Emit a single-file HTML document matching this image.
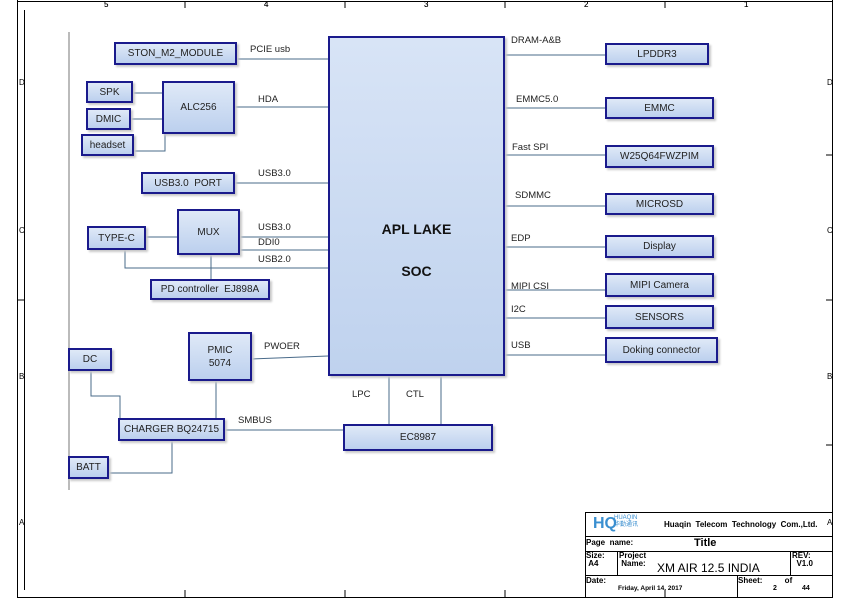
<!DOCTYPE html>
<html><head><style>
body{margin:0;width:851px;height:601px;background:#fff;position:relative;overflow:hidden;font-family:"Liberation Sans",sans-serif}
.b{position:absolute;box-sizing:border-box;border:2.5px solid #1a1a8c;background:linear-gradient(180deg,#dfe9f7,#bcd0ee);box-shadow:2px 2px 2px #c8c8c8;font-size:10px;color:#222;display:flex;align-items:center;justify-content:center;text-align:center;line-height:13px}
.t{position:absolute;font-size:9.5px;color:#222;white-space:nowrap}
.s{position:absolute;font-size:8px;color:#000}
</style></head><body>
<svg width="851" height="601" style="position:absolute;left:0;top:0">
<g stroke="#000" stroke-width="1" fill="none">
<line x1="17" y1="1.5" x2="833" y2="1.5"/><line x1="17.5" y1="0" x2="17.5" y2="598"/>
<line x1="832.5" y1="0" x2="832.5" y2="598"/><line x1="17" y1="597.5" x2="833" y2="597.5"/>
<line x1="24.5" y1="10" x2="24.5" y2="590"/>
<line x1="185" y1="1" x2="185" y2="8"/><line x1="345" y1="1" x2="345" y2="8"/><line x1="505" y1="1" x2="505" y2="8"/><line x1="665" y1="1" x2="665" y2="8"/>
<line x1="185" y1="590" x2="185" y2="598"/><line x1="345" y1="590" x2="345" y2="598"/><line x1="505" y1="590" x2="505" y2="598"/><line x1="665" y1="590" x2="665" y2="598"/>
<line x1="17" y1="300" x2="24" y2="300"/><line x1="826" y1="300" x2="833" y2="300"/>
<line x1="826" y1="155" x2="833" y2="155"/><line x1="826" y1="445" x2="833" y2="445"/>
</g>
<line x1="69" y1="32" x2="69" y2="490" stroke="#bbb" stroke-width="2"/>
<g stroke="#4a6b8a" stroke-width="1" fill="none">
<line x1="237" y1="59" x2="328" y2="59"/><line x1="235" y1="107" x2="328" y2="107"/><line x1="235" y1="183" x2="328" y2="183"/>
<line x1="133" y1="93" x2="162" y2="93"/><line x1="131" y1="119" x2="162" y2="119"/><polyline points="134,151 165,151 165,134"/>
<line x1="146" y1="237" x2="177" y2="237"/><line x1="240" y1="237" x2="328" y2="237"/><line x1="240" y1="250" x2="328" y2="250"/>
<polyline points="125,250 125,268 328,268"/><line x1="211" y1="255" x2="211" y2="279"/>
<line x1="252" y1="359" x2="328" y2="356"/><line x1="216" y1="381" x2="216" y2="418"/>
<polyline points="91,371 91,396 120,396 120,418"/><line x1="225" y1="430" x2="343" y2="430"/>
<polyline points="109,473 172,473 172,441"/><line x1="389" y1="376" x2="389" y2="424"/><line x1="441" y1="376" x2="441" y2="424"/>
<line x1="505" y1="55" x2="605" y2="55"/><line x1="505" y1="108" x2="605" y2="108"/><line x1="505" y1="155" x2="605" y2="155"/>
<line x1="505" y1="206" x2="605" y2="206"/><line x1="505" y1="247" x2="605" y2="247"/><line x1="505" y1="290" x2="605" y2="290"/>
<line x1="505" y1="318" x2="605" y2="318"/><line x1="505" y1="355" x2="605" y2="355"/>
</g>
<g stroke="#000" stroke-width="1" fill="none">
<rect x="585.5" y="512.5" width="247" height="85"/>
<line x1="585" y1="536.5" x2="833" y2="536.5"/><line x1="585" y1="551.5" x2="833" y2="551.5"/><line x1="585" y1="575.5" x2="833" y2="575.5"/>
<line x1="617.5" y1="551" x2="617.5" y2="575"/><line x1="790.5" y1="551" x2="790.5" y2="575"/><line x1="737.5" y1="575" x2="737.5" y2="597"/>
</g>
</svg>
<div class="s" style="left:104px;top:0">5</div><div class="s" style="left:264px;top:0">4</div><div class="s" style="left:424px;top:0">3</div><div class="s" style="left:584px;top:0">2</div><div class="s" style="left:744px;top:0">1</div>
<div class="s" style="left:104px;top:592">5</div><div class="s" style="left:264px;top:592">4</div><div class="s" style="left:424px;top:592">3</div><div class="s" style="left:584px;top:592">2</div><div class="s" style="left:744px;top:592">1</div>
<div class="s" style="left:19px;top:78px">D</div><div class="s" style="left:19px;top:226px">C</div><div class="s" style="left:19px;top:372px">B</div><div class="s" style="left:19px;top:518px">A</div>
<div class="s" style="left:827px;top:78px">D</div><div class="s" style="left:827px;top:226px">C</div><div class="s" style="left:827px;top:372px">B</div><div class="s" style="left:827px;top:518px">A</div>

<div class="b" style="left:328px;top:36px;width:177px;height:340px;display:block;padding-top:170px;font-weight:bold;font-size:14px;line-height:42px;color:#111;background:linear-gradient(180deg,#d8e4f6,#bfd2ee)">APL LAKE<br>SOC</div>
<div class="b" style="left:114px;top:42px;width:123px;height:23px">STON_M2_MODULE</div>
<div class="b" style="left:86px;top:81px;width:47px;height:22px">SPK</div>
<div class="b" style="left:86px;top:108px;width:45px;height:22px">DMIC</div>
<div class="b" style="left:81px;top:134px;width:53px;height:22px">headset</div>
<div class="b" style="left:162px;top:81px;width:73px;height:53px">ALC256</div>
<div class="b" style="left:141px;top:172px;width:94px;height:22px">USB3.0 &nbsp;PORT</div>
<div class="b" style="left:87px;top:226px;width:59px;height:24px">TYPE-C</div>
<div class="b" style="left:177px;top:209px;width:63px;height:46px">MUX</div>
<div class="b" style="left:150px;top:279px;width:120px;height:21px">PD controller &nbsp;EJ898A</div>
<div class="b" style="left:188px;top:332px;width:64px;height:49px">PMIC<br>5074</div>
<div class="b" style="left:68px;top:348px;width:44px;height:23px">DC</div>
<div class="b" style="left:118px;top:418px;width:107px;height:23px">CHARGER BQ24715</div>
<div class="b" style="left:68px;top:456px;width:41px;height:23px">BATT</div>
<div class="b" style="left:343px;top:424px;width:150px;height:27px">EC8987</div>
<div class="b" style="left:605px;top:43px;width:104px;height:22px">LPDDR3</div>
<div class="b" style="left:605px;top:97px;width:109px;height:22px">EMMC</div>
<div class="b" style="left:605px;top:145px;width:109px;height:23px">W25Q64FWZPIM</div>
<div class="b" style="left:605px;top:193px;width:109px;height:22px">MICROSD</div>
<div class="b" style="left:605px;top:235px;width:109px;height:23px">Display</div>
<div class="b" style="left:605px;top:273px;width:109px;height:24px">MIPI Camera</div>
<div class="b" style="left:605px;top:305px;width:109px;height:24px">SENSORS</div>
<div class="b" style="left:605px;top:337px;width:113px;height:26px">Doking connector</div>

<div class="t" style="left:250px;top:44px">PCIE usb</div>
<div class="t" style="left:258px;top:94px">HDA</div>
<div class="t" style="left:258px;top:168px">USB3.0</div>
<div class="t" style="left:258px;top:222px">USB3.0</div>
<div class="t" style="left:258px;top:237px">DDI0</div>
<div class="t" style="left:258px;top:254px">USB2.0</div>
<div class="t" style="left:264px;top:341px">PWOER</div>
<div class="t" style="left:238px;top:415px">SMBUS</div>
<div class="t" style="left:352px;top:389px">LPC</div>
<div class="t" style="left:406px;top:389px">CTL</div>
<div class="t" style="left:511px;top:35px">DRAM-A&amp;B</div>
<div class="t" style="left:516px;top:94px">EMMC5.0</div>
<div class="t" style="left:512px;top:142px">Fast SPI</div>
<div class="t" style="left:515px;top:190px">SDMMC</div>
<div class="t" style="left:511px;top:233px">EDP</div>
<div class="t" style="left:511px;top:281px">MIPI CSI</div>
<div class="t" style="left:511px;top:304px">I2C</div>
<div class="t" style="left:511px;top:340px">USB</div>

<div style="position:absolute;left:593px;top:515px;font-weight:bold;font-size:16px;color:#3a8fd0">HQ</div>
<div style="position:absolute;left:614px;top:515px;font-size:6px;color:#3a8fd0;line-height:7px">HUAQIN<br>华勤通讯</div>
<div class="s" style="left:664px;top:520px;font-weight:bold;font-size:8px">Huaqin &nbsp;Telecom &nbsp;Technology &nbsp;Com.,Ltd.</div>
<div class="s" style="left:586px;top:538px;font-weight:bold">Page &nbsp;name:</div>
<div class="s" style="left:694px;top:537px;font-weight:bold;font-size:11px">Title</div>
<div class="s" style="left:586px;top:552px;font-weight:bold;line-height:8px">Size:<br>&nbsp;A4</div>
<div class="s" style="left:619px;top:552px;font-weight:bold;line-height:8px">Project<br>&nbsp;Name:</div>
<div class="s" style="left:657px;top:561px;font-size:12px">XM AIR 12.5 INDIA</div>
<div class="s" style="left:792px;top:552px;font-weight:bold;line-height:8px">REV:<br>&nbsp;&nbsp;V1.0</div>
<div class="s" style="left:586px;top:576px;font-weight:bold">Date:</div>
<div class="s" style="left:618px;top:585px;font-weight:bold;font-size:6.5px">Friday, April 14, 2017</div>
<div class="s" style="left:738px;top:576px;font-weight:bold">Sheet: &nbsp;&nbsp;&nbsp;&nbsp;&nbsp;&nbsp;&nbsp;&nbsp;&nbsp;of</div>
<div class="s" style="left:773px;top:585px;font-weight:bold;font-size:7px">2</div>
<div class="s" style="left:802px;top:585px;font-weight:bold;font-size:7px">44</div>
</body></html>
